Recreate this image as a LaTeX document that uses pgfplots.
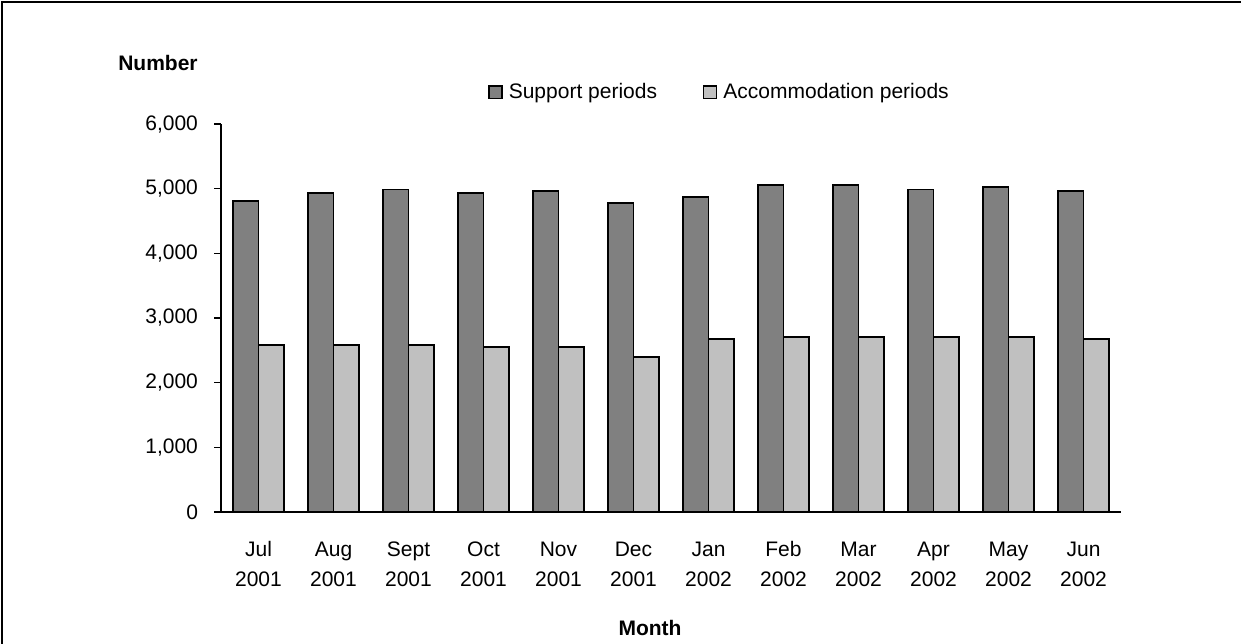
\documentclass[border=0pt]{standalone}
\usepackage{pgfplots}
\pgfplotsset{compat=1.18}
\usepackage{fontspec}
\setmainfont{Liberation Sans}
\definecolor{darkbar}{HTML}{808080}
\definecolor{lightbar}{HTML}{C0C0C0}
\begin{document}
\begin{tikzpicture}
\path[use as bounding box] (0,0) rectangle (620.5pt,321.5pt);
\draw[line width=0.7pt] (1pt,-5pt) -- (1pt,320.5pt) -- (625pt,320.5pt);
\begin{axis}[
  at={(110.5pt,65.5pt)}, anchor=south west,
  scale only axis, width=450pt, height=194pt,
  ybar=0pt, bar width=0.34,
  xmin=-0.5, xmax=11.5, ymin=0, ymax=6000,
  axis x line=bottom, axis y line=left,
  axis line style={-, line width=0.6pt},
  xtick=data,
  xticklabels={{\strut Jul\\\strut 2001},{\strut Aug\\\strut 2001},{\strut Sept\\\strut 2001},{\strut Oct\\\strut 2001},{\strut Nov\\\strut 2001},{\strut Dec\\\strut 2001},{\strut Jan\\\strut 2002},{\strut Feb\\\strut 2002},{\strut Mar\\\strut 2002},{\strut Apr\\\strut 2002},{\strut May\\\strut 2002},{\strut Jun\\\strut 2002}},
  x tick style={draw=none},
  xticklabel style={font=\fontsize{10.5}{15}\selectfont, align=center, anchor=north, yshift=-4.5pt},
  ytick={0,1000,...,6000},
  y tick style={line width=0.6pt, black},
  tick align=outside, major tick length=3.5pt,
  yticklabel style={font=\fontsize{10.5}{12}\selectfont, xshift=-4.5pt},
  /pgf/number format/assume math mode=true,
  /pgf/number format/.cd, 1000 sep={,}, /pgfplots/.cd,
  xlabel={\textbf{Month}},
  xlabel style={font=\fontsize{10.5}{12}\selectfont, at={(axis description cs:0.5,0)}, anchor=center, yshift=-58pt, xshift=-10.5pt},
  ylabel={\textbf{Number}},
  ylabel style={font=\fontsize{10.5}{12}\selectfont, rotate=-90, at={(axis description cs:-0.07,1.157)}, anchor=center},
  legend columns=2,
  legend style={draw=none, fill=none, at={(axis description cs:0.29,1.082)}, anchor=west,
    font=\fontsize{10.5}{12}\selectfont, /tikz/every even column/.append style={column sep=21pt}},
  legend image code/.code={\draw[#1, line width=0.7pt] (0pt,-3.2pt) rectangle (6.5pt,3.2pt);},
]
\addplot[fill=darkbar, draw=black, line width=0.8pt] coordinates {
(0,4807) (1,4930) (2,4990) (3,4930) (4,4960) (5,4776) (6,4869) (7,5054) (8,5054) (9,4990) (10,5030) (11,4960)};
\addplot[fill=lightbar, draw=black, line width=0.8pt] coordinates {
(0,2586) (1,2586) (2,2586) (3,2550) (4,2550) (5,2396) (6,2674) (7,2709) (8,2709) (9,2709) (10,2709) (11,2674)};
\addlegendentry{\hspace{1pt}Support periods}
\addlegendentry{\hspace{1pt}Accommodation periods}
\end{axis}
\end{tikzpicture}
\end{document}
